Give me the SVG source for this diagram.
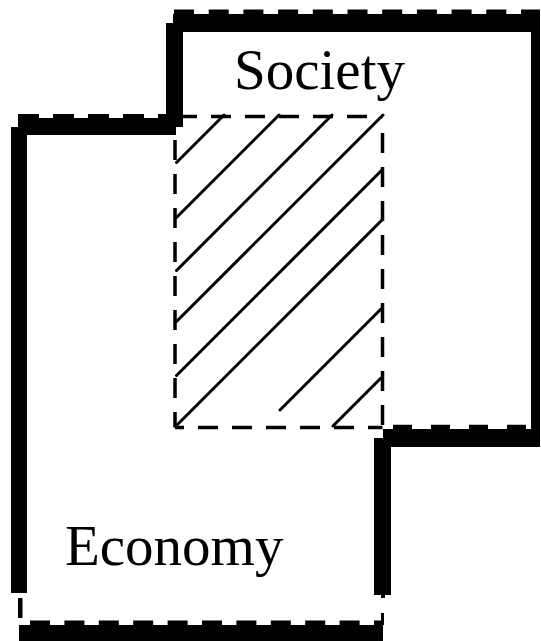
<svg xmlns="http://www.w3.org/2000/svg" width="541" height="641" viewBox="0 0 541 641">
<style>
.bar{fill:#000}
.bump{stroke:#000;fill:none;stroke-dasharray:20 14.7}
.edge{stroke:#000;stroke-width:3.5;fill:none;stroke-dasharray:20 14}
.hatch{stroke:#000;stroke-width:3;stroke-linecap:round;fill:none}
.lbl{font-family:"Liberation Serif","Times New Roman",serif;font-size:57px;fill:#000}
</style>
<rect width="541" height="641" fill="#fff"/>
<g id="society">
<rect class="bar" x="173" y="14" width="367" height="18"/>
<rect class="bar" x="166" y="23" width="17" height="104"/>
<rect class="bar" x="531" y="14" width="9" height="433"/>
<rect class="bar" x="383" y="429" width="157" height="18"/>
<line class="bump" x1="174" y1="11.8" x2="540" y2="11.8" stroke-width="4.8"/>
<line class="bump" x1="393" y1="427" x2="531" y2="427" stroke-width="4.5" style="stroke-dasharray:19 19"/>
<text class="lbl" x="234" y="89">Society</text>
</g>
<g id="economy">
<rect class="bar" x="18" y="118" width="158" height="17"/>
<rect class="bar" x="11" y="127" width="16" height="466"/>
<rect class="bar" x="19" y="625" width="364" height="16"/>
<rect class="bar" x="374" y="438" width="17" height="157"/>
<rect class="bar" x="18" y="598" width="4.5" height="20"/>
<rect class="bar" x="381" y="595" width="4" height="3"/>
<rect class="bar" x="381" y="613" width="3" height="12"/>
<line class="bump" x1="18" y1="116" x2="176" y2="116" stroke-width="4" style="stroke-dasharray:21 14"/>
<line class="bump" x1="30" y1="623" x2="383" y2="623" stroke-width="5" style="stroke-dasharray:20 14.4"/>
<text class="lbl" x="65" y="565">Economy</text>
</g>
<g id="overlap">
<line class="edge" x1="177" y1="116.5" x2="382.5" y2="116.5"/>
<line class="edge" x1="382.5" y1="133" x2="382.5" y2="427.5"/>
<line class="edge" x1="175" y1="427.5" x2="382.5" y2="427.5" stroke-dashoffset="11"/>
<line class="edge" x1="175" y1="140" x2="175" y2="427.5"/>
<path class="hatch" d="M176.5 162.5L224 115M176.5 217.5L279 115M176.5 270.5L332 115M176.5 321.5L383 115M176.5 375.5L382 170M176.5 425.5L382 220M280 410L381 309M333 426L381 378"/>
</g>
</svg>
